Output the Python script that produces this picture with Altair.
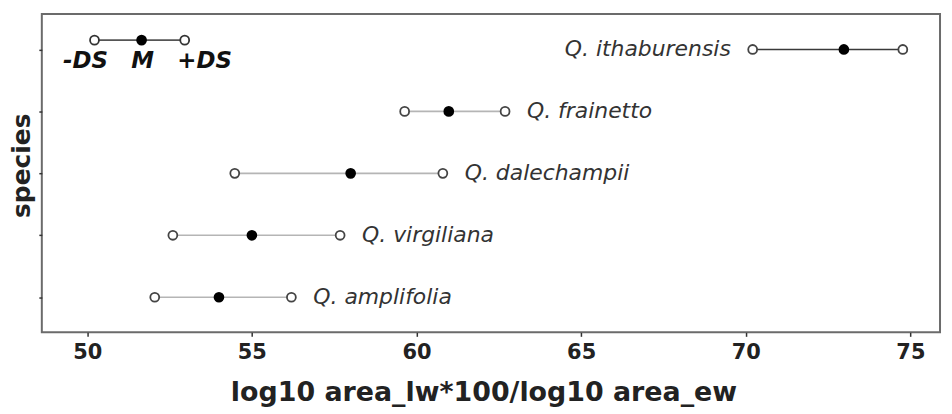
import altair as alt
import pandas as pd

# ---- data ----
species = ["Q. amplifolia", "Q. virgiliana", "Q. dalechampii", "Q. frainetto", "Q. ithaburensis"]
minus_ds = [52.05, 52.6, 54.48, 59.64, 70.21]
mean_val = [54.0, 55.0, 58.0, 60.98, 72.98]
plus_ds = [56.2, 57.68, 60.8, 62.69, 74.77]

legend_labels = ["-DS", "M", "+DS"]
legend_values = [50.22, 51.65, 52.96]
legend_row = 5.15

x_ticks = [50, 55, 60, 65, 70, 75]

df = pd.DataFrame({
    "species": species,
    "row": list(range(1, len(species) + 1)),
    "lo": minus_ds,
    "m": mean_val,
    "hi": plus_ds,
})
leg = pd.DataFrame({"lo": [legend_values[0]], "m": [legend_values[1]],
                    "hi": [legend_values[2]], "row": [legend_row]})
leg_txt = pd.DataFrame({"x": legend_values, "label": legend_labels, "row": [legend_row] * 3})

FONT = "DejaVu Sans"
xscale = alt.Scale(domain=[48.62, 75.9], nice=False, zero=False)
yscale = alt.Scale(domain=[0.434, 5.571], nice=False, zero=False)
xaxis = alt.Axis(values=x_ticks, grid=False, domain=False, tickSize=4, tickColor="#333",
                 tickWidth=1.5, labelFont=FONT, labelFontWeight="bold", labelFontSize=21,
                 labelColor="#222", labelPadding=5, titleFont=FONT, titleFontWeight="bold",
                 titleFontSize=27, titleColor="#222", titlePadding=18, titleX=444)
yaxis = alt.Axis(values=[1, 2, 3, 4, 5], labels=False, grid=False, domain=False, tickSize=3,
                 tickColor="#333", tickWidth=1.5, titleFont=FONT, titleFontWeight="bold",
                 titleFontSize=25, titleColor="#222", titlePadding=4, titleY=152)
XT = "log10 area_lw*100/log10 area_ew"


def X(field):
    return alt.X(field, type="quantitative", scale=xscale, axis=xaxis, title=XT)


def Y(field="row"):
    return alt.Y(field, type="quantitative", scale=yscale, axis=yaxis, title="species")


base = alt.Chart(df)
is_ith = alt.datum.species == "Q. ithaburensis"

rules = base.mark_rule(strokeWidth=1.6).encode(
    x=X("lo"), x2="hi", y=Y(),
    color=alt.condition(is_ith, alt.value("#3a3a3a"), alt.value("#b5b5b5")),
)
open_lo = base.mark_point(shape="circle", size=80, filled=True, fill="white",
                          stroke="#444", strokeWidth=1.8, opacity=1).encode(x=X("lo"), y=Y())
open_hi = base.mark_point(shape="circle", size=80, filled=True, fill="white",
                          stroke="#444", strokeWidth=1.8, opacity=1).encode(x=X("hi"), y=Y())
filled = base.mark_point(shape="circle", size=115, filled=True, color="black",
                         opacity=1).encode(x=X("m"), y=Y())

lab_right = base.transform_filter(~is_ith).mark_text(
    align="left", baseline="middle", dx=22, font=FONT, fontSize=22, fontStyle="italic",
    color="#333").encode(x=X("hi"), y=Y(), text="species:N")
lab_left = base.transform_filter(is_ith).mark_text(
    align="right", baseline="middle", dx=-22, font=FONT, fontSize=22, fontStyle="italic",
    color="#333").encode(x=X("lo"), y=Y(), text="species:N")

lbase = alt.Chart(leg)
l_rule = lbase.mark_rule(strokeWidth=1.6, color="#555").encode(x=X("lo"), x2="hi", y=Y())
l_lo = lbase.mark_point(shape="circle", size=80, filled=True, fill="white", stroke="#333",
                        strokeWidth=1.8, opacity=1).encode(x=X("lo"), y=Y())
l_hi = lbase.mark_point(shape="circle", size=80, filled=True, fill="white", stroke="#333",
                        strokeWidth=1.8, opacity=1).encode(x=X("hi"), y=Y())
l_m = lbase.mark_point(shape="circle", size=115, filled=True, color="black",
                       opacity=1).encode(x=X("m"), y=Y())


def leg_label(lbl, dx):
    return alt.Chart(leg_txt).transform_filter(alt.datum.label == lbl).mark_text(
        align="center", baseline="middle", dx=dx, dy=21, font=FONT, fontSize=23,
        fontStyle="italic", fontWeight="bold", color="#111").encode(
        x=X("x"), y=Y(), text="label:N")


chart = alt.layer(
    rules, open_lo, open_hi, filled, lab_right, lab_left,
    l_rule, l_lo, l_hi, l_m,
    leg_label("-DS", -9), leg_label("M", 1), leg_label("+DS", 20),
).properties(
    width=903, height=320,
    padding={"left": 34, "top": 5, "right": 4, "bottom": 80},
    autosize=alt.AutoSizeParams(type="none"),
).configure_view(stroke="#6b6b6b", strokeWidth=2)

chart.save("out.html", embed_options={"renderer": "svg", "actions": False})
